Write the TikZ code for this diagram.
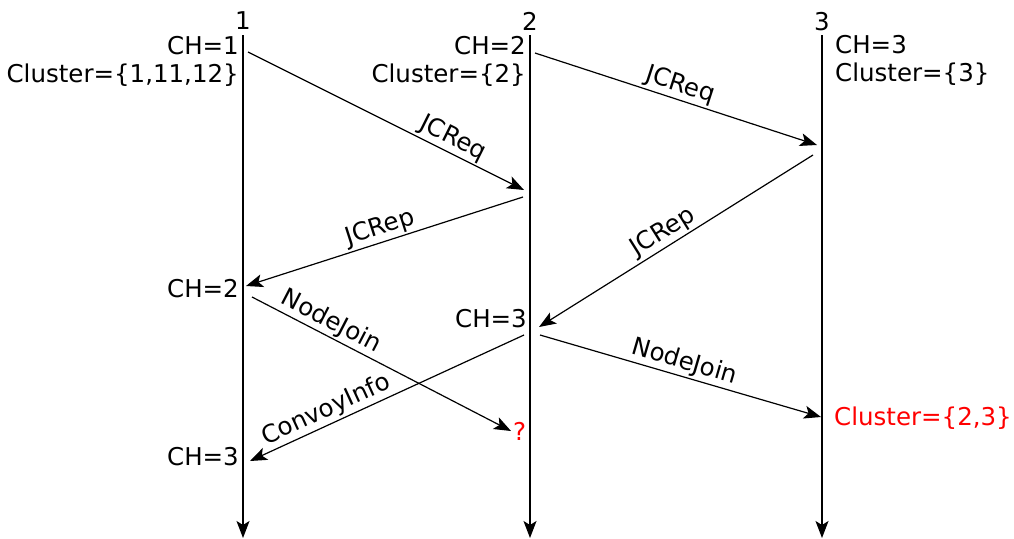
\documentclass[tikz,border=0pt]{standalone}
\usepackage{fontspec}
\setmainfont{DejaVu Sans}
\usepackage{xcolor}
\usepackage{tikz}
\usetikzlibrary{arrows.meta,positioning}

\begin{document}
\begin{tikzpicture}[x=1pt,y=-1pt,
    every node/.style={font=\fontsize{24.5}{28}\selectfont,inner sep=2pt},
    life/.style={-{Stealth[length=17pt,width=13pt,inset=4pt]},line width=1.2pt},
    msg/.style={-{Stealth[length=17pt,width=13pt,inset=4pt]},line width=1.2pt},
    msglabel/.style={sloped,above},
    state/.style={align=right,anchor=east},
    note/.style={text=red}]
  \useasboundingbox (0,0) rectangle (1014,538);
  % lifelines
  \node (n1) at (243,21) {1};
  \node (n2) at (530,21) {2};
  \node (n3) at (822,22) {3};
  \coordinate (t1) at (243,35);  \coordinate (b1) at (243,538);
  \coordinate (t2) at (530,35);  \coordinate (b2) at (530,538);
  \coordinate (t3) at (822,35);  \coordinate (b3) at (822,538);
  \draw[life] (t1) -- (b1);
  \draw[life] (t2) -- (b2);
  \draw[life] (t3) -- (b3);
  % initial states
  \node[state] (s1) at (241,61) {CH=1\\Cluster=\{1,11,12\}};
  \node[state] (s2) at (528,61) {CH=2\\Cluster=\{2\}};
  \node[align=left,anchor=west] (s3) at (833,60) {CH=3\\Cluster=\{3\}};
  % message end points
  \coordinate (req1a) at (248,52);   \coordinate (req1b) at (524,190);
  \coordinate (req2a) at (535,53);   \coordinate (req2b) at (817,145);
  \coordinate (rep3a) at (813,155);  \coordinate (rep3b) at (539,327);
  \coordinate (rep2a) at (523,197);  \coordinate (rep2b) at (246,286);
  \coordinate (join1a) at (252,297); \coordinate (join1b) at (511,431);
  \coordinate (join2a) at (540,335); \coordinate (join2b) at (821,417);
  \coordinate (convA) at (524,335);  \coordinate (convB) at (250,461);
  % messages
  \draw[msg] (req1a) -- node[msglabel,pos=0.72] (lreq1) {JCReq} (req1b);
  \draw[msg] (req2a) -- node[msglabel,pos=0.5] (lreq2) {JCReq} (req2b);
  \draw[msg] (rep3a) -- node[msglabel,pos=0.52] (lrep3) {JCRep} (rep3b);
  \draw[msg] (rep2a) -- node[msglabel,pos=0.5] (lrep2) {JCRep} (rep2b);
  \draw[msg] (join1a) -- node[msglabel,pos=0.28] (ljoin1) {NodeJoin} (join1b);
  \draw[msg] (join2a) -- node[msglabel,pos=0.5] (ljoin2) {NodeJoin} (join2b);
  \draw[msg] (convA) -- node[msglabel,pos=0.7] (lconv) {ConvoyInfo} (convB);
  % later states
  \node[state] (ch2) at (241,289) {CH=2};
  \node[state] (ch3b) at (529,319) {CH=3};
  \node[state] (ch3a) at (241,457) {CH=3};
  \node[note,anchor=west] (q) at (511,431) {?};
  \node[note,anchor=west] (cl) at (832,418) {Cluster=\{2,3\}};
\end{tikzpicture}
\end{document}
